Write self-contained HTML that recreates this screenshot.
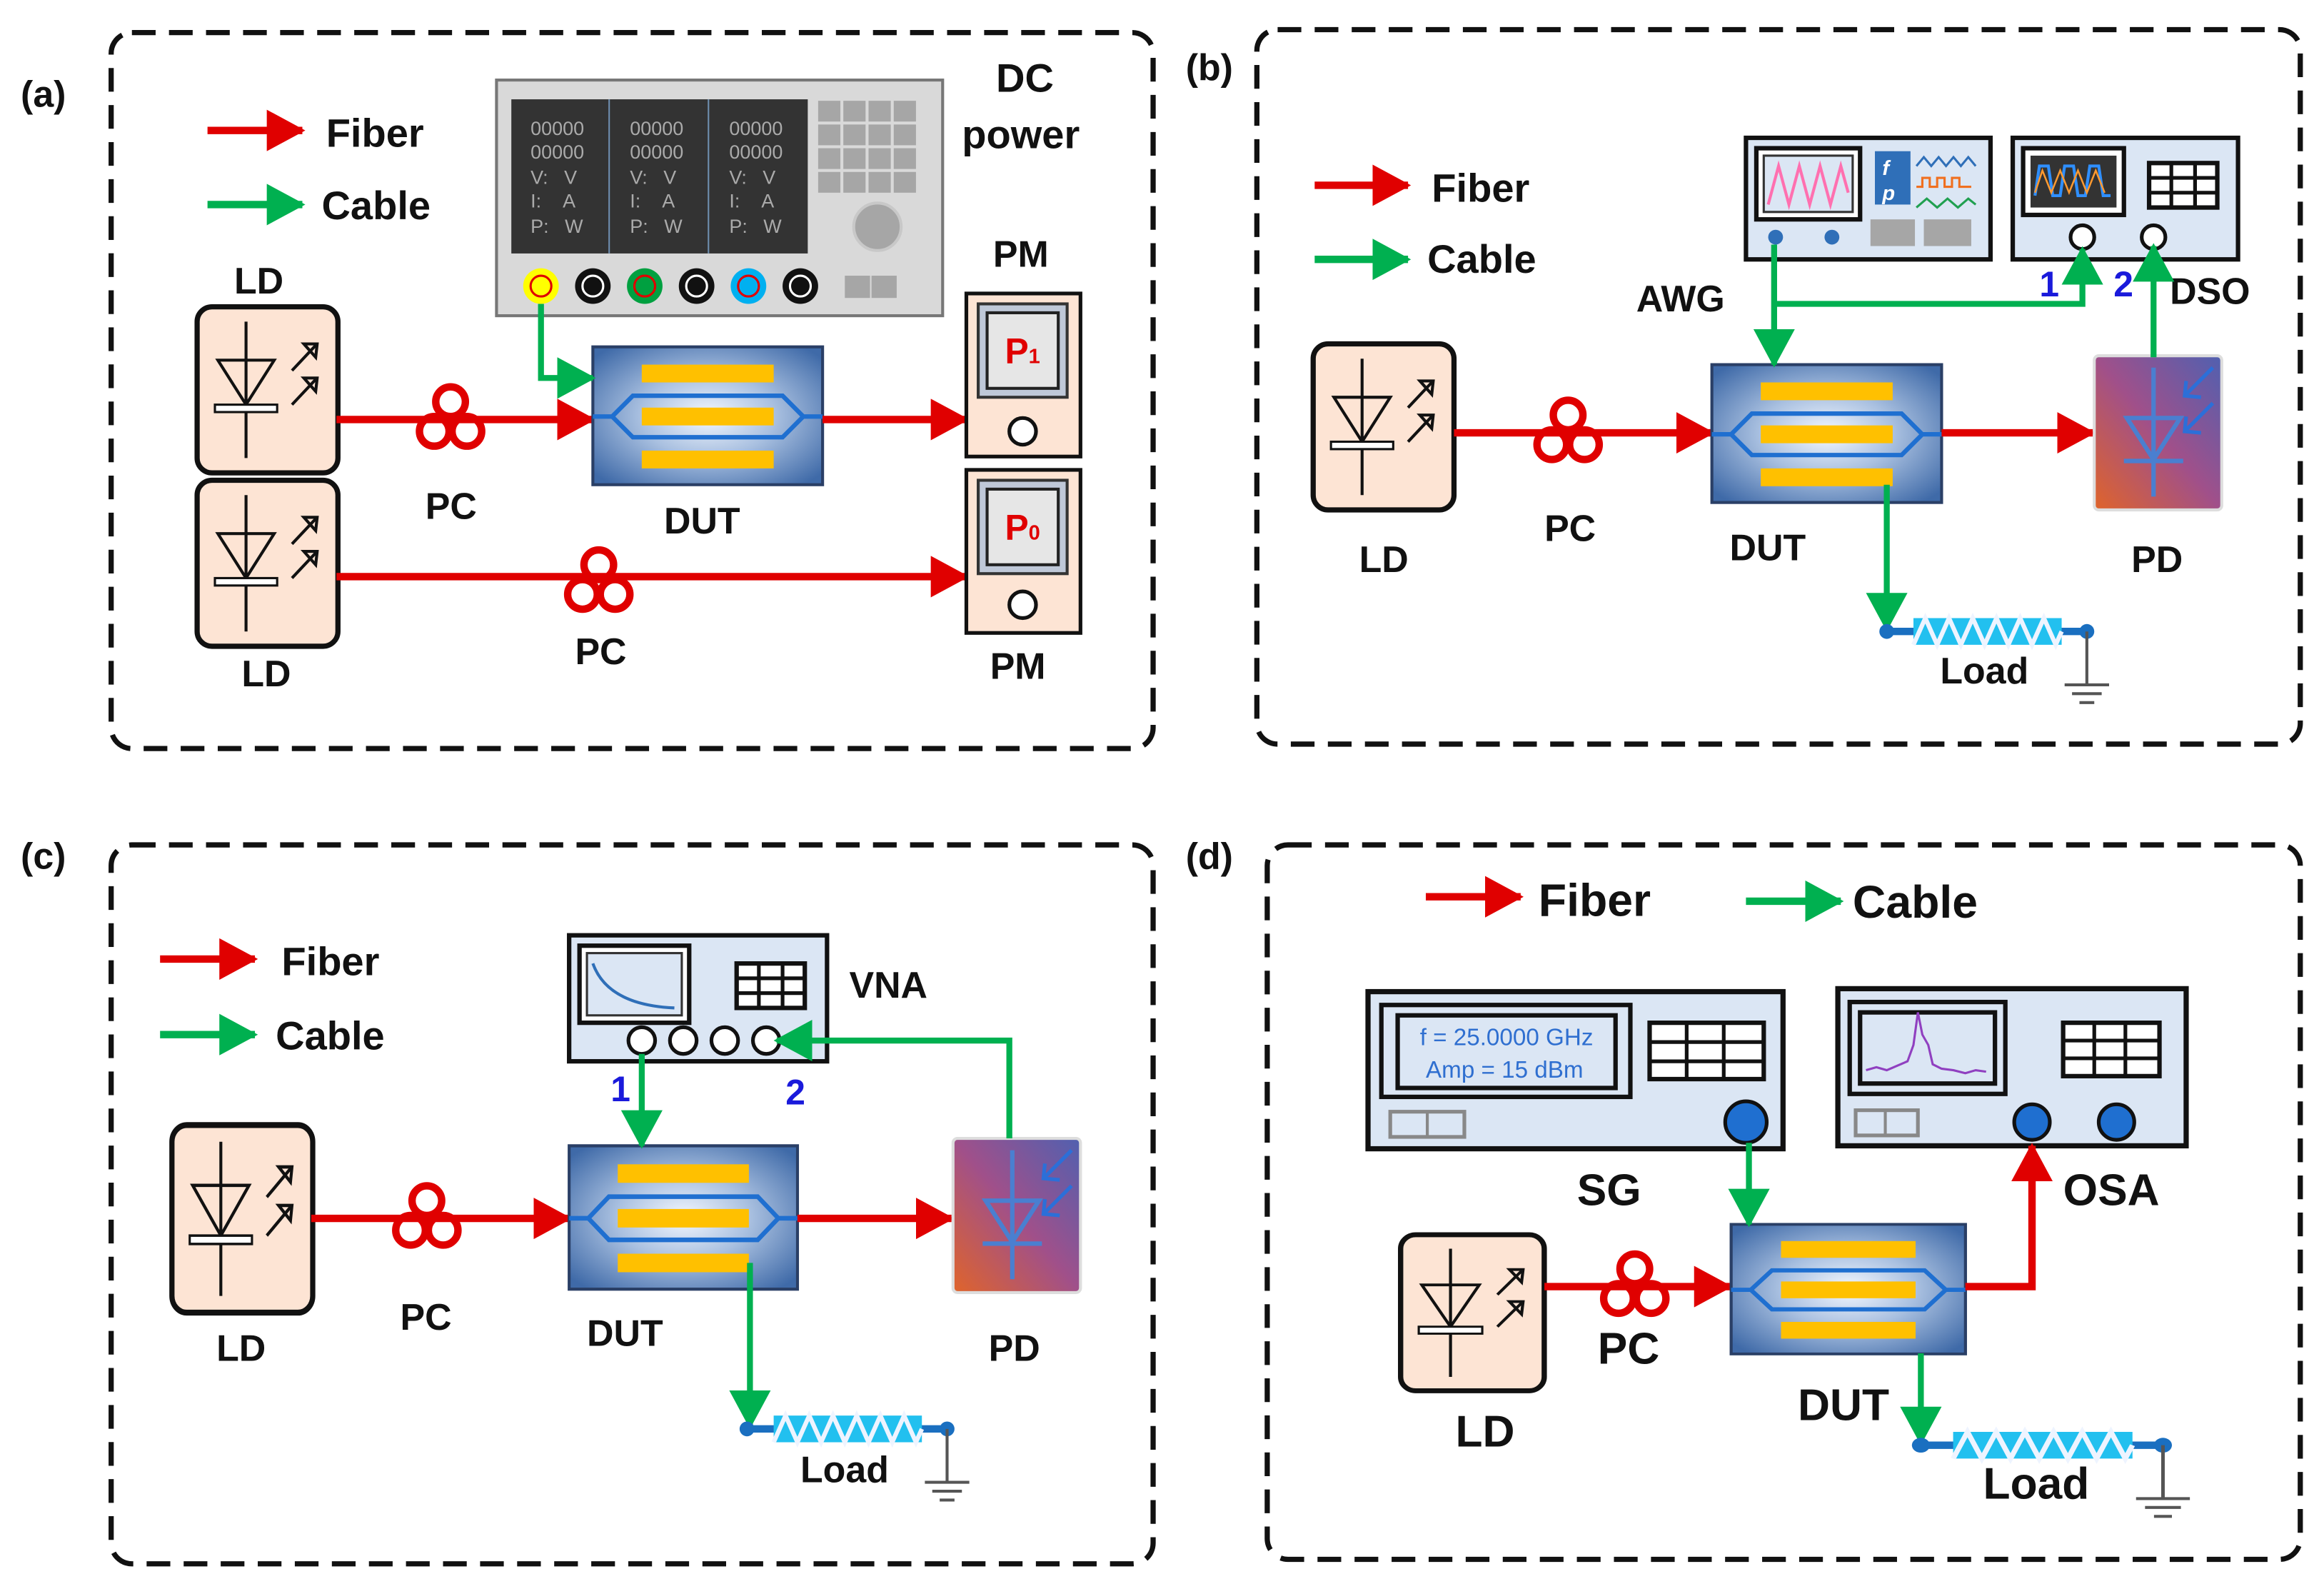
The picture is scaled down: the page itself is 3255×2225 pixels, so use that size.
<!DOCTYPE html>
<html><head><meta charset="utf-8"><style>
html,body{margin:0;padding:0;background:#fff;}
svg{display:block;}
text{font-family:"Liberation Sans",sans-serif;font-weight:bold;fill:#111;}
</style></head><body>
<svg width="3255" height="2225" viewBox="0 0 1568 1072" preserveAspectRatio="none" xmlns="http://www.w3.org/2000/svg">
<defs>
<marker id="rh" markerUnits="userSpaceOnUse" markerWidth="26" markerHeight="28" refX="24" refY="14" orient="auto"><path d="M0,0 L26,14 L0,28 Z" fill="#e00000"/></marker>
<marker id="gh" markerUnits="userSpaceOnUse" markerWidth="26" markerHeight="28" refX="24" refY="14" orient="auto"><path d="M0,0 L26,14 L0,28 Z" fill="#00b050"/></marker>
<radialGradient id="dutg" cx="50%" cy="50%" r="65%"><stop offset="0" stop-color="#f4f8ff"/><stop offset="0.45" stop-color="#a9c0e0"/><stop offset="1" stop-color="#3f6aa8"/></radialGradient>
<linearGradient id="pdg" x1="0" y1="1" x2="1" y2="0"><stop offset="0" stop-color="#e0642a"/><stop offset="0.5" stop-color="#a0508a"/><stop offset="1" stop-color="#5060b0"/></linearGradient>
<g id="dut">
<rect x="0" y="0" width="155" height="93" fill="url(#dutg)" stroke="#2a3f66" stroke-width="2"/>
<rect x="33" y="12" width="89" height="12" fill="#ffc000"/>
<rect x="33" y="41" width="89" height="12" fill="#ffc000"/>
<rect x="33" y="70" width="89" height="12" fill="#ffc000"/>
<path d="M0,47 L13,47 L27,33 L128,33 L142,47 L155,47 M13,47 L27,61 L128,61 L142,47" fill="none" stroke="#1f6fd0" stroke-width="3"/>
</g>
<g id="ld">
<rect x="0" y="0" width="95" height="112" rx="10" fill="#fde4d4" stroke="#111" stroke-width="3.5"/>
<path d="M33,10 V102 M14,36 H52 L33,66 Z" fill="none" stroke="#111" stroke-width="2"/>
<rect x="12" y="66" width="42" height="5" fill="#fff" stroke="#111" stroke-width="1.5"/>
<path d="M64,43 L80,26 M72,25 L81,25 L80,34 Z M64,66 L80,49 M72,48 L81,48 L80,57 Z" fill="none" stroke="#111" stroke-width="2"/>
</g>
<g id="pc" fill="none" stroke="#e00000" stroke-width="5">
<circle cx="0" cy="-12" r="10"/><circle cx="-11" cy="8" r="10"/><circle cx="11" cy="8" r="10"/>
</g>
<g id="pd">
<rect x="0" y="0" width="86" height="104" rx="3" fill="url(#pdg)" stroke="#ddd" stroke-width="2"/>
<path d="M40,8 V95 M22,42 H58 L40,70 Z M20,71 H60" fill="none" stroke="#4a7fd0" stroke-width="3"/>
<path d="M80,8 L62,26 M72,28 L61,27 L62,17 M80,32 L62,50 M72,52 L61,51 L62,41" fill="none" stroke="#2c6fd8" stroke-width="2.5"/>
</g>
<g id="load">
<path d="M0,0 H135" stroke="#1a6fc0" stroke-width="5"/>
<circle cx="0" cy="0" r="5" fill="#1a6fc0"/><circle cx="135" cy="0" r="5" fill="#1a6fc0"/>
<rect x="18" y="-9" width="100" height="18" fill="#22c0ef"/>
<path d="M18,9 L26,-9 L34,9 L42,-9 L50,9 L58,-9 L66,9 L74,-9 L82,9 L90,-9 L98,9 L106,-9 L114,9 L118,0" fill="none" stroke="#eef4ff" stroke-width="3"/>
<path d="M135,0 V36 M120,36 H150 M125,42 H145 M130,48 H140" stroke="#555" stroke-width="2" fill="none"/>
</g>
<g id="grid">
<rect x="0" y="0" width="46" height="30" fill="#fff" stroke="#111" stroke-width="3"/>
<path d="M15,0 V30 M31,0 V30 M0,10 H46 M0,20 H46" stroke="#111" stroke-width="2.5"/>
</g>
</defs>

<!-- ===== panel a ===== -->
<rect x="75" y="22" width="703" height="483" rx="14" fill="none" stroke="#111" stroke-width="3.5" stroke-dasharray="16,9"/>
<text x="14" y="72" font-size="25">(a)</text>
<line x1="140" y1="88" x2="204" y2="88" stroke="#e00000" stroke-width="5" marker-end="url(#rh)"/>
<text x="220" y="99" font-size="27">Fiber</text>
<line x1="140" y1="138" x2="204" y2="138" stroke="#00b050" stroke-width="5" marker-end="url(#gh)"/>
<text x="217" y="148" font-size="27">Cable</text>

<rect x="335" y="54" width="301" height="159" fill="#d9d9d9" stroke="#777" stroke-width="2"/>
<rect x="345" y="67" width="200" height="104" fill="#333"/>
<path d="M411,67 V171 M478,67 V171" stroke="#6f8fb0" stroke-width="1"/>
<g font-family="Liberation Sans" font-size="13" fill="#aaa" style="font-weight:normal">
<text x="358" y="91" style="font-weight:normal;fill:#aaa">00000</text><text x="358" y="107" style="font-weight:normal;fill:#aaa">00000</text>
<text x="358" y="124" style="font-weight:normal;fill:#aaa">V:&#160;&#160;&#160;V</text><text x="358" y="140" style="font-weight:normal;fill:#aaa">I:&#160;&#160;&#160;&#160;A</text><text x="358" y="157" style="font-weight:normal;fill:#aaa">P:&#160;&#160;&#160;W</text>
<text x="425" y="91" style="font-weight:normal;fill:#aaa">00000</text><text x="425" y="107" style="font-weight:normal;fill:#aaa">00000</text>
<text x="425" y="124" style="font-weight:normal;fill:#aaa">V:&#160;&#160;&#160;V</text><text x="425" y="140" style="font-weight:normal;fill:#aaa">I:&#160;&#160;&#160;&#160;A</text><text x="425" y="157" style="font-weight:normal;fill:#aaa">P:&#160;&#160;&#160;W</text>
<text x="492" y="91" style="font-weight:normal;fill:#aaa">00000</text><text x="492" y="107" style="font-weight:normal;fill:#aaa">00000</text>
<text x="492" y="124" style="font-weight:normal;fill:#aaa">V:&#160;&#160;&#160;V</text><text x="492" y="140" style="font-weight:normal;fill:#aaa">I:&#160;&#160;&#160;&#160;A</text><text x="492" y="157" style="font-weight:normal;fill:#aaa">P:&#160;&#160;&#160;W</text>
</g>
<g fill="#a6a6a6">
<rect x="552" y="68" width="15" height="14"/><rect x="569" y="68" width="15" height="14"/><rect x="586" y="68" width="15" height="14"/><rect x="603" y="68" width="15" height="14"/>
<rect x="552" y="84" width="15" height="14"/><rect x="569" y="84" width="15" height="14"/><rect x="586" y="84" width="15" height="14"/><rect x="603" y="84" width="15" height="14"/>
<rect x="552" y="100" width="15" height="14"/><rect x="569" y="100" width="15" height="14"/><rect x="586" y="100" width="15" height="14"/><rect x="603" y="100" width="15" height="14"/>
<rect x="552" y="116" width="15" height="14"/><rect x="569" y="116" width="15" height="14"/><rect x="586" y="116" width="15" height="14"/><rect x="603" y="116" width="15" height="14"/>
<rect x="570" y="186" width="17" height="15"/><rect x="588" y="186" width="17" height="15"/>
</g>
<circle cx="592" cy="153" r="16" fill="#a6a6a6" stroke="#c8c8c8" stroke-width="2"/>
<circle cx="365" cy="193" r="12" fill="#ffff00"/><circle cx="365" cy="193" r="7" fill="none" stroke="#e00000" stroke-width="1.5"/>
<circle cx="400" cy="193" r="12" fill="#111"/><circle cx="400" cy="193" r="7" fill="none" stroke="#fff" stroke-width="1.5"/>
<circle cx="435" cy="193" r="12" fill="#00a040"/><circle cx="435" cy="193" r="7" fill="none" stroke="#e00000" stroke-width="1.5"/>
<circle cx="470" cy="193" r="12" fill="#111"/><circle cx="470" cy="193" r="7" fill="none" stroke="#fff" stroke-width="1.5"/>
<circle cx="505" cy="193" r="12" fill="#00b0f0"/><circle cx="505" cy="193" r="7" fill="none" stroke="#e00000" stroke-width="1.5"/>
<circle cx="540" cy="193" r="12" fill="#111"/><circle cx="540" cy="193" r="7" fill="none" stroke="#fff" stroke-width="1.5"/>
<text x="672" y="62" font-size="27">DC</text>
<text x="649" y="100" font-size="27">power</text>

<use href="#ld" x="133" y="207"/>
<use href="#ld" x="133" y="324"/>
<text x="158" y="198" font-size="25">LD</text>
<text x="163" y="463" font-size="25">LD</text>
<line x1="227" y1="283" x2="400" y2="283" stroke="#e00000" stroke-width="5" marker-end="url(#rh)"/>
<use href="#pc" x="304" y="283"/>
<use href="#dut" x="400" y="234"/>
<line x1="555" y1="283" x2="652" y2="283" stroke="#e00000" stroke-width="5" marker-end="url(#rh)"/>
<line x1="227" y1="389" x2="652" y2="389" stroke="#e00000" stroke-width="5" marker-end="url(#rh)"/>
<use href="#pc" x="404" y="393"/>
<polyline points="365,205 365,255 400,255" fill="none" stroke="#00b050" stroke-width="4" marker-end="url(#gh)"/>
<text x="287" y="350" font-size="25">PC</text>
<text x="388" y="448" font-size="25">PC</text>
<text x="448" y="360" font-size="25">DUT</text>

<g>
<rect x="652" y="198" width="77" height="110" fill="#fde4d4" stroke="#111" stroke-width="2.5"/>
<rect x="660" y="205" width="60" height="63" fill="#bfc8d8" stroke="#333" stroke-width="2"/>
<rect x="666" y="211" width="48" height="51" fill="#e6e6e6" stroke="#222" stroke-width="2"/>
<circle cx="690" cy="291" r="9" fill="#fff" stroke="#111" stroke-width="2.5"/>
<text x="678" y="245" font-size="24" style="fill:#e00000">P<tspan font-size="14">1</tspan></text>
<rect x="652" y="317" width="77" height="110" fill="#fde4d4" stroke="#111" stroke-width="2.5"/>
<rect x="660" y="324" width="60" height="63" fill="#bfc8d8" stroke="#333" stroke-width="2"/>
<rect x="666" y="330" width="48" height="51" fill="#e6e6e6" stroke="#222" stroke-width="2"/>
<circle cx="690" cy="408" r="9" fill="#fff" stroke="#111" stroke-width="2.5"/>
<text x="678" y="364" font-size="24" style="fill:#e00000">P<tspan font-size="14">0</tspan></text>
</g>
<text x="670" y="180" font-size="25">PM</text>
<text x="668" y="458" font-size="25">PM</text>

<!-- ===== panel b ===== -->
<rect x="848" y="20" width="704" height="482" rx="14" fill="none" stroke="#111" stroke-width="3.5" stroke-dasharray="16,9"/>
<text x="800" y="54" font-size="25">(b)</text>
<line x1="887" y1="125" x2="950" y2="125" stroke="#e00000" stroke-width="5" marker-end="url(#rh)"/>
<text x="966" y="136" font-size="27">Fiber</text>
<line x1="887" y1="175" x2="950" y2="175" stroke="#00b050" stroke-width="5" marker-end="url(#gh)"/>
<text x="963" y="184" font-size="27">Cable</text>

<rect x="1178" y="93" width="165" height="82" fill="#dbe6f4" stroke="#111" stroke-width="3"/>
<rect x="1185" y="100" width="70" height="48" fill="#fff" stroke="#111" stroke-width="3"/>
<rect x="1190" y="105" width="60" height="38" fill="#dbe6f4" stroke="#333" stroke-width="1.5"/>
<polyline points="1193,138 1200,112 1207,138 1214,112 1221,138 1228,112 1235,138 1242,112 1247,130" fill="none" stroke="#ff70b0" stroke-width="2"/>
<rect x="1265" y="102" width="24" height="36" fill="#2f6fb8"/>
<text x="1270" y="118" font-size="14" style="fill:#fff;font-style:italic">f</text>
<text x="1270" y="135" font-size="14" style="fill:#fff;font-style:italic">p</text>
<polyline points="1293,112 1298,106 1303,112 1308,106 1313,112 1318,106 1323,112 1328,106 1333,112" fill="none" stroke="#2f6fb8" stroke-width="1.5"/>
<polyline points="1293,126 1297,126 1297,120 1302,120 1302,126 1307,126 1307,120 1312,120 1312,126 1317,126 1317,120 1322,120 1322,126 1330,126" fill="none" stroke="#f07020" stroke-width="1.5"/>
<polyline points="1293,140 1300,134 1307,140 1314,134 1321,140 1328,134 1333,138" fill="none" stroke="#20a050" stroke-width="1.5"/>
<rect x="1262" y="148" width="30" height="18" fill="#a6a6a6"/><rect x="1298" y="148" width="32" height="18" fill="#a6a6a6"/>
<circle cx="1198" cy="160" r="5" fill="#2f6fb8"/><circle cx="1236" cy="160" r="5" fill="#2f6fb8"/>

<rect x="1358" y="93" width="152" height="82" fill="#dbe6f4" stroke="#111" stroke-width="3"/>
<rect x="1365" y="100" width="68" height="45" fill="#fff" stroke="#111" stroke-width="3"/>
<rect x="1370" y="105" width="58" height="35" fill="#333"/>
<polyline points="1373,132 1376,112 1382,112 1385,132 1390,132 1393,112 1399,112 1402,132 1407,132 1410,112 1416,112 1419,132 1424,132" fill="none" stroke="#2f8fff" stroke-width="2"/>
<polyline points="1373,130 1378,115 1384,130 1390,115 1396,130 1402,115 1408,130 1414,115 1420,130" fill="none" stroke="#ff9a30" stroke-width="1.2"/>
<use href="#grid" x="1450" y="110"/>
<circle cx="1405" cy="160" r="8" fill="#fff" stroke="#111" stroke-width="2.5"/>
<circle cx="1453" cy="160" r="8" fill="#fff" stroke="#111" stroke-width="2.5"/>
<text x="1104" y="210" font-size="25">AWG</text>
<text x="1464" y="205" font-size="25">DSO</text>
<text x="1376" y="200" font-size="24" style="fill:#1a1adb">1</text>
<text x="1426" y="200" font-size="24" style="fill:#1a1adb">2</text>

<use href="#ld" x="886" y="232"/>
<line x1="981" y1="292" x2="1155" y2="292" stroke="#e00000" stroke-width="5" marker-end="url(#rh)"/>
<use href="#pc" x="1058" y="292"/>
<use href="#dut" x="1155" y="246"/>
<line x1="1310" y1="292" x2="1412" y2="292" stroke="#e00000" stroke-width="5" marker-end="url(#rh)"/>
<use href="#pd" x="1413" y="240"/>
<line x1="1197" y1="165" x2="1197" y2="246" stroke="#00b050" stroke-width="4" marker-end="url(#gh)"/>
<polyline points="1197,205 1405,205 1405,168" fill="none" stroke="#00b050" stroke-width="4" marker-end="url(#gh)"/>
<line x1="1453" y1="241" x2="1453" y2="166" stroke="#00b050" stroke-width="4" marker-end="url(#gh)"/>
<line x1="1273" y1="327" x2="1273" y2="424" stroke="#00b050" stroke-width="4" marker-end="url(#gh)"/>
<use href="#load" x="1273" y="426"/>
<text x="1309" y="461" font-size="25">Load</text>
<text x="917" y="386" font-size="25">LD</text>
<text x="1042" y="365" font-size="25">PC</text>
<text x="1167" y="378" font-size="25">DUT</text>
<text x="1438" y="386" font-size="25">PD</text>

<!-- ===== panel c ===== -->
<rect x="75" y="570" width="703" height="485" rx="14" fill="none" stroke="#111" stroke-width="3.5" stroke-dasharray="16,9"/>
<text x="14" y="586" font-size="25">(c)</text>
<line x1="108" y1="647" x2="172" y2="647" stroke="#e00000" stroke-width="5" marker-end="url(#rh)"/>
<text x="190" y="658" font-size="27">Fiber</text>
<line x1="108" y1="698" x2="172" y2="698" stroke="#00b050" stroke-width="5" marker-end="url(#gh)"/>
<text x="186" y="708" font-size="27">Cable</text>

<rect x="384" y="631" width="174" height="85" fill="#dbe6f4" stroke="#111" stroke-width="3"/>
<rect x="391" y="638" width="74" height="52" fill="#fff" stroke="#111" stroke-width="3"/>
<rect x="396" y="643" width="64" height="42" fill="#dbe6f4" stroke="#333" stroke-width="1.5"/>
<path d="M400,650 Q410,678 455,680" fill="none" stroke="#2f6fb8" stroke-width="2"/>
<use href="#grid" x="497" y="650"/>
<circle cx="433" cy="702" r="9" fill="#fff" stroke="#111" stroke-width="2.5"/>
<circle cx="461" cy="702" r="9" fill="#fff" stroke="#111" stroke-width="2.5"/>
<circle cx="489" cy="702" r="9" fill="#fff" stroke="#111" stroke-width="2.5"/>
<circle cx="517" cy="702" r="9" fill="#fff" stroke="#111" stroke-width="2.5"/>
<text x="573" y="673" font-size="25">VNA</text>
<text x="412" y="743" font-size="24" style="fill:#1a1adb">1</text>
<text x="530" y="745" font-size="24" style="fill:#1a1adb">2</text>

<use href="#ld" x="116" y="759" transform="translate(116,759) scale(1,1.13) translate(-116,-759)"/>
<line x1="210" y1="822" x2="384" y2="822" stroke="#e00000" stroke-width="5" marker-end="url(#rh)"/>
<use href="#pc" x="288" y="822"/>
<use href="#dut" x="384" y="773" transform="translate(384,773) scale(0.994,1.04) translate(-384,-773)"/>
<line x1="538" y1="822" x2="642" y2="822" stroke="#e00000" stroke-width="5" marker-end="url(#rh)"/>
<use href="#pd" x="643" y="768"/>
<line x1="433" y1="711" x2="433" y2="773" stroke="#00b050" stroke-width="4" marker-end="url(#gh)"/>
<polyline points="681,768 681,702 524,702" fill="none" stroke="#00b050" stroke-width="4" marker-end="url(#gh)"/>
<line x1="506" y1="852" x2="506" y2="962" stroke="#00b050" stroke-width="4" marker-end="url(#gh)"/>
<use href="#load" x="504" y="964"/>
<text x="540" y="1000" font-size="25">Load</text>
<text x="146" y="918" font-size="25">LD</text>
<text x="270" y="897" font-size="25">PC</text>
<text x="396" y="908" font-size="25">DUT</text>
<text x="667" y="918" font-size="25">PD</text>

<!-- ===== panel d ===== -->
<rect x="855" y="570" width="697" height="482" rx="14" fill="none" stroke="#111" stroke-width="3.5" stroke-dasharray="16,9"/>
<text x="800" y="586" font-size="25">(d)</text>
<line x1="962" y1="605" x2="1026" y2="605" stroke="#e00000" stroke-width="5" marker-end="url(#rh)"/>
<text x="1038" y="618" font-size="31">Fiber</text>
<line x1="1178" y1="608" x2="1242" y2="608" stroke="#00b050" stroke-width="5" marker-end="url(#gh)"/>
<text x="1250" y="619" font-size="31">Cable</text>

<rect x="923" y="669" width="280" height="106" fill="#dbe6f4" stroke="#111" stroke-width="3.5"/>
<rect x="932" y="678" width="168" height="62" fill="#dbe6f4" stroke="#111" stroke-width="3"/>
<rect x="943" y="685" width="147" height="49" fill="#dbe6f4" stroke="#111" stroke-width="3"/>
<text x="958" y="705" font-size="16" style="font-weight:normal;fill:#2f6fd0">f = 25.0000 GHz</text>
<text x="962" y="727" font-size="16" style="font-weight:normal;fill:#2f6fd0">Amp = 15 dBm</text>
<rect x="1113" y="690" width="77" height="38" fill="#fff" stroke="#111" stroke-width="3"/>
<path d="M1138,690 V728 M1163,690 V728 M1113,703 H1190 M1113,716 H1190" stroke="#111" stroke-width="2.5"/>
<rect x="938" y="750" width="50" height="17" fill="none" stroke="#888" stroke-width="2.5"/><line x1="963" y1="750" x2="963" y2="767" stroke="#888" stroke-width="2"/>
<circle cx="1178" cy="757" r="14" fill="#1f6fd0" stroke="#111" stroke-width="2.5"/>
<text x="1064" y="813" font-size="30">SG</text>

<rect x="1240" y="667" width="235" height="106" fill="#dbe6f4" stroke="#111" stroke-width="3.5"/>
<rect x="1248" y="676" width="105" height="62" fill="#dbe6f4" stroke="#111" stroke-width="3"/>
<rect x="1255" y="683" width="91" height="48" fill="#dbe6f4" stroke="#111" stroke-width="3"/>
<polyline points="1259,722 1266,720 1273,722 1280,719 1287,716 1291,705 1294,683 1297,698 1301,705 1304,718 1310,721 1318,722 1326,724 1333,722 1340,723" fill="none" stroke="#9040c0" stroke-width="1.5"/>
<rect x="1392" y="690" width="65" height="36" fill="#fff" stroke="#111" stroke-width="3"/>
<path d="M1413,690 V726 M1434,690 V726 M1392,702 H1457 M1392,714 H1457" stroke="#111" stroke-width="2.5"/>
<rect x="1252" y="749" width="42" height="17" fill="none" stroke="#888" stroke-width="2.5"/><line x1="1272" y1="749" x2="1272" y2="766" stroke="#888" stroke-width="2"/>
<circle cx="1371" cy="757" r="12" fill="#1f6fd0" stroke="#111" stroke-width="2.5"/>
<circle cx="1428" cy="757" r="12" fill="#1f6fd0" stroke="#111" stroke-width="2.5"/>
<text x="1392" y="813" font-size="30">OSA</text>

<use href="#ld" x="945" y="833" transform="translate(945,833) scale(1.02,0.94) translate(-945,-833)"/>
<line x1="1042" y1="868" x2="1167" y2="868" stroke="#e00000" stroke-width="5" marker-end="url(#rh)"/>
<use href="#pc" x="1103" y="868"/>
<use href="#dut" x="1168" y="826" transform="translate(1168,826) scale(1.02,0.94) translate(-1168,-826)"/>
<polyline points="1326,868 1371,868 1371,773" fill="none" stroke="#e00000" stroke-width="5" marker-end="url(#rh)"/>
<line x1="1180" y1="771" x2="1180" y2="826" stroke="#00b050" stroke-width="4" marker-end="url(#gh)"/>
<line x1="1296" y1="913" x2="1296" y2="973" stroke="#00b050" stroke-width="4" marker-end="url(#gh)"/>
<g transform="translate(1296,975) scale(1.21,1)"><use href="#load"/></g>
<text x="1338" y="1011" font-size="30">Load</text>
<text x="982" y="976" font-size="30">LD</text>
<text x="1078" y="920" font-size="30">PC</text>
<text x="1213" y="958" font-size="30">DUT</text>
</svg>
</body></html>
